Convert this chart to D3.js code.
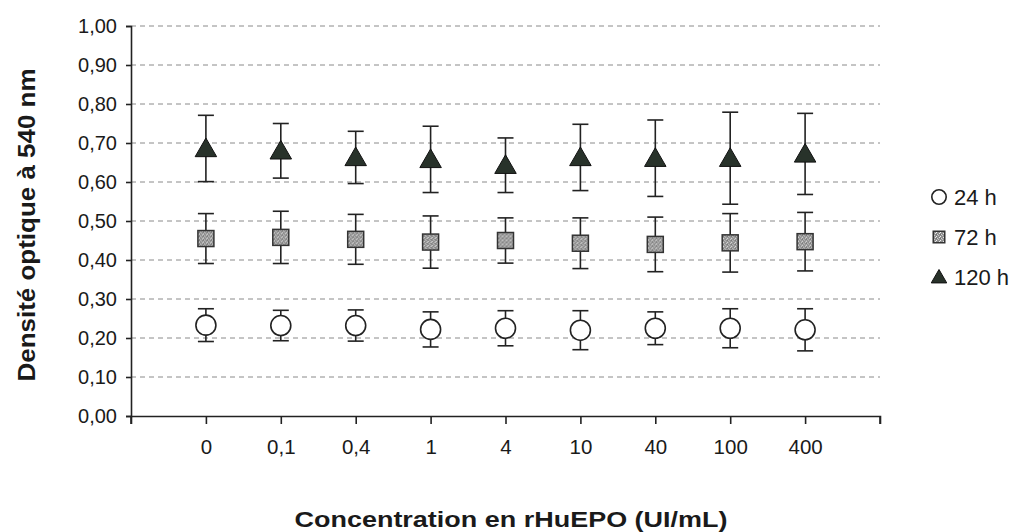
<!DOCTYPE html>
<html lang="fr">
<head>
<meta charset="UTF-8">
<title>Densité optique</title>
<style>
  body { margin: 0; background: #fff; }
  svg { display: block; font-family: "Liberation Sans", Arial, sans-serif; }
  .tick text { fill: #1a1a1a; }
  .grid line { stroke: #8a8a8a; stroke-width: 1; stroke-dasharray: 5,4; }
  .errbar { stroke: #222; stroke-width: 1.6; fill: none; }
</style>
</head>
<body>
<svg id="chart" width="1017" height="532"></svg>
<script src="https://d3js.org/d3.v7.min.js"></script>
<script>
// categories on the x axis (rHuEPO concentration)
const categories = ["0", "0,1", "0,4", "1", "4", "10", "40", "100", "400"];

// mean optical density and error for each incubation time
const h24 = [0.233, 0.232, 0.232, 0.222, 0.225, 0.220, 0.225, 0.225, 0.221];
const h24Err = [0.042, 0.039, 0.040, 0.045, 0.045, 0.050, 0.042, 0.050, 0.054];
const h72 = [0.455, 0.458, 0.453, 0.446, 0.450, 0.443, 0.440, 0.444, 0.447];
const h72Err = [0.064, 0.067, 0.064, 0.067, 0.058, 0.065, 0.070, 0.075, 0.075];
const h120 = [0.686, 0.680, 0.663, 0.658, 0.643, 0.663, 0.661, 0.661, 0.672];
const h120Err = [0.085, 0.070, 0.067, 0.085, 0.070, 0.085, 0.098, 0.118, 0.104];

const seriesNames = ["24 h", "72 h", "120 h"];
const yTicks = [0, 0.1, 0.2, 0.3, 0.4, 0.5, 0.6, 0.7, 0.8, 0.9, 1.0];

const margin = { top: 26, left: 131, right: 137, bottom: 116 };
const width = 1017, height = 532;

const svg = d3.select("#chart");

// speckled grey fill for the square markers
const pat = svg.append("defs").append("pattern")
  .attr("id", "speckle").attr("patternUnits", "userSpaceOnUse")
  .attr("width", 4).attr("height", 4);
pat.append("rect").attr("width", 4).attr("height", 4).attr("fill", "#8e8e8e");
[[0, 0, "#e6e6e6"], [2, 1, "#d2d2d2"], [1, 3, "#f2f2f2"], [3, 2, "#c4c4c4"], [1, 1, "#6e6e6e"]]
  .forEach(p => pat.append("rect").attr("x", p[0]).attr("y", p[1])
    .attr("width", 1).attr("height", 1).attr("fill", p[2]));

const x = d3.scalePoint()
  .domain(categories)
  .range([margin.left, width - margin.right])
  .padding(1);

const y = d3.scaleLinear()
  .domain([0, 1])
  .range([height - margin.bottom, margin.top]);

// dashed horizontal gridlines
svg.append("g").attr("class", "grid")
  .selectAll("line")
  .data(yTicks.filter(d => d > 0))
  .join("line")
  .attr("x1", margin.left).attr("x2", width - margin.right)
  .attr("y1", d => y(d)).attr("y2", d => y(d));

// y axis
const yAxis = svg.append("g")
  .attr("transform", `translate(${margin.left},0)`)
  .call(d3.axisLeft(y).tickValues(yTicks).tickSize(5).tickPadding(9)
    .tickFormat(d => d3.format(".2f")(d).replace(".", ",")));
yAxis.selectAll("text").style("font-size", "20px");

// x axis
const xAxis = svg.append("g")
  .attr("transform", `translate(0,${y(0)})`)
  .call(d3.axisBottom(x).tickSize(8).tickPadding(15));
xAxis.selectAll("text").style("font-size", "20.5px");
// end ticks at both extremities of the axis
xAxis.selectAll(".endtick")
  .data(x.range())
  .join("line")
  .attr("class", "endtick")
  .attr("x1", d => d).attr("x2", d => d)
  .attr("y1", 0).attr("y2", 8)
  .attr("stroke", "#222");

svg.selectAll(".domain, .tick line, .endtick").attr("stroke", "#222").attr("stroke-width", 1.6);

// error bars and markers
const series = [
  { name: seriesNames[0], values: h24, err: h24Err, kind: "circle" },
  { name: seriesNames[1], values: h72, err: h72Err, kind: "square" },
  { name: seriesNames[2], values: h120, err: h120Err, kind: "triangle" }
];

function drawMarker(g, kind, scale) {
  if (kind === "circle") {
    g.append("circle").attr("r", 10 * scale)
      .attr("fill", "#fff").attr("stroke", "#222").attr("stroke-width", 1.6);
  } else if (kind === "square") {
    const s = 16 * scale;
    g.append("rect").attr("x", -s / 2).attr("y", -s / 2)
      .attr("width", s).attr("height", s)
      .attr("fill", "url(#speckle)").attr("stroke", "#333").attr("stroke-width", 1.5);
  } else {
    g.append("path")
      .attr("d", d3.symbol(d3.symbolTriangle, 200 * scale * scale)())
      .attr("transform", `translate(0,${2 * scale})`)
      .attr("fill", "#28322a").attr("stroke", "#111").attr("stroke-width", 1);
  }
}

const capHalf = 8;
series.forEach(s => {
  const pts = categories.map((c, i) => ({ c: c, v: s.values[i], e: s.err[i] }));
  const eb = svg.append("g").selectAll("g").data(pts).join("g").attr("class", "errbar");
  eb.append("line")
    .attr("x1", d => x(d.c)).attr("x2", d => x(d.c))
    .attr("y1", d => y(d.v + d.e)).attr("y2", d => y(d.v - d.e));
  eb.append("line")
    .attr("x1", d => x(d.c) - capHalf).attr("x2", d => x(d.c) + capHalf)
    .attr("y1", d => y(d.v + d.e)).attr("y2", d => y(d.v + d.e));
  eb.append("line")
    .attr("x1", d => x(d.c) - capHalf).attr("x2", d => x(d.c) + capHalf)
    .attr("y1", d => y(d.v - d.e)).attr("y2", d => y(d.v - d.e));

  svg.append("g").selectAll("g").data(pts).join("g")
    .attr("transform", d => `translate(${x(d.c)},${y(d.v)})`)
    .each(function () { drawMarker(d3.select(this), s.kind, 1); });
});

// legend
const legend = svg.append("g").attr("transform", "translate(939,0)");
series.forEach((s, i) => {
  const g = legend.append("g").attr("transform", `translate(0,${197 + i * 40})`);
  drawMarker(g, s.kind, 0.72);
  g.append("text").attr("x", 15).attr("dy", "0.36em")
    .style("font-size", "22px").attr("fill", "#1a1a1a").text(s.name);
});

// axis titles
svg.append("text")
  .attr("transform", `translate(35,${(y(0) + y(1)) / 2 + 4}) rotate(-90)`)
  .attr("text-anchor", "middle")
  .attr("textLength", 313).attr("lengthAdjust", "spacingAndGlyphs")
  .style("font-size", "23px").style("font-weight", "bold").attr("fill", "#1a1a1a")
  .text("Densité optique à 540 nm");

svg.append("text")
  .attr("x", 511).attr("y", 527)
  .attr("text-anchor", "middle")
  .attr("textLength", 433).attr("lengthAdjust", "spacingAndGlyphs")
  .style("font-size", "22px").style("font-weight", "bold").attr("fill", "#1a1a1a")
  .text("Concentration en rHuEPO (UI/mL)");
</script>
</body>
</html>
